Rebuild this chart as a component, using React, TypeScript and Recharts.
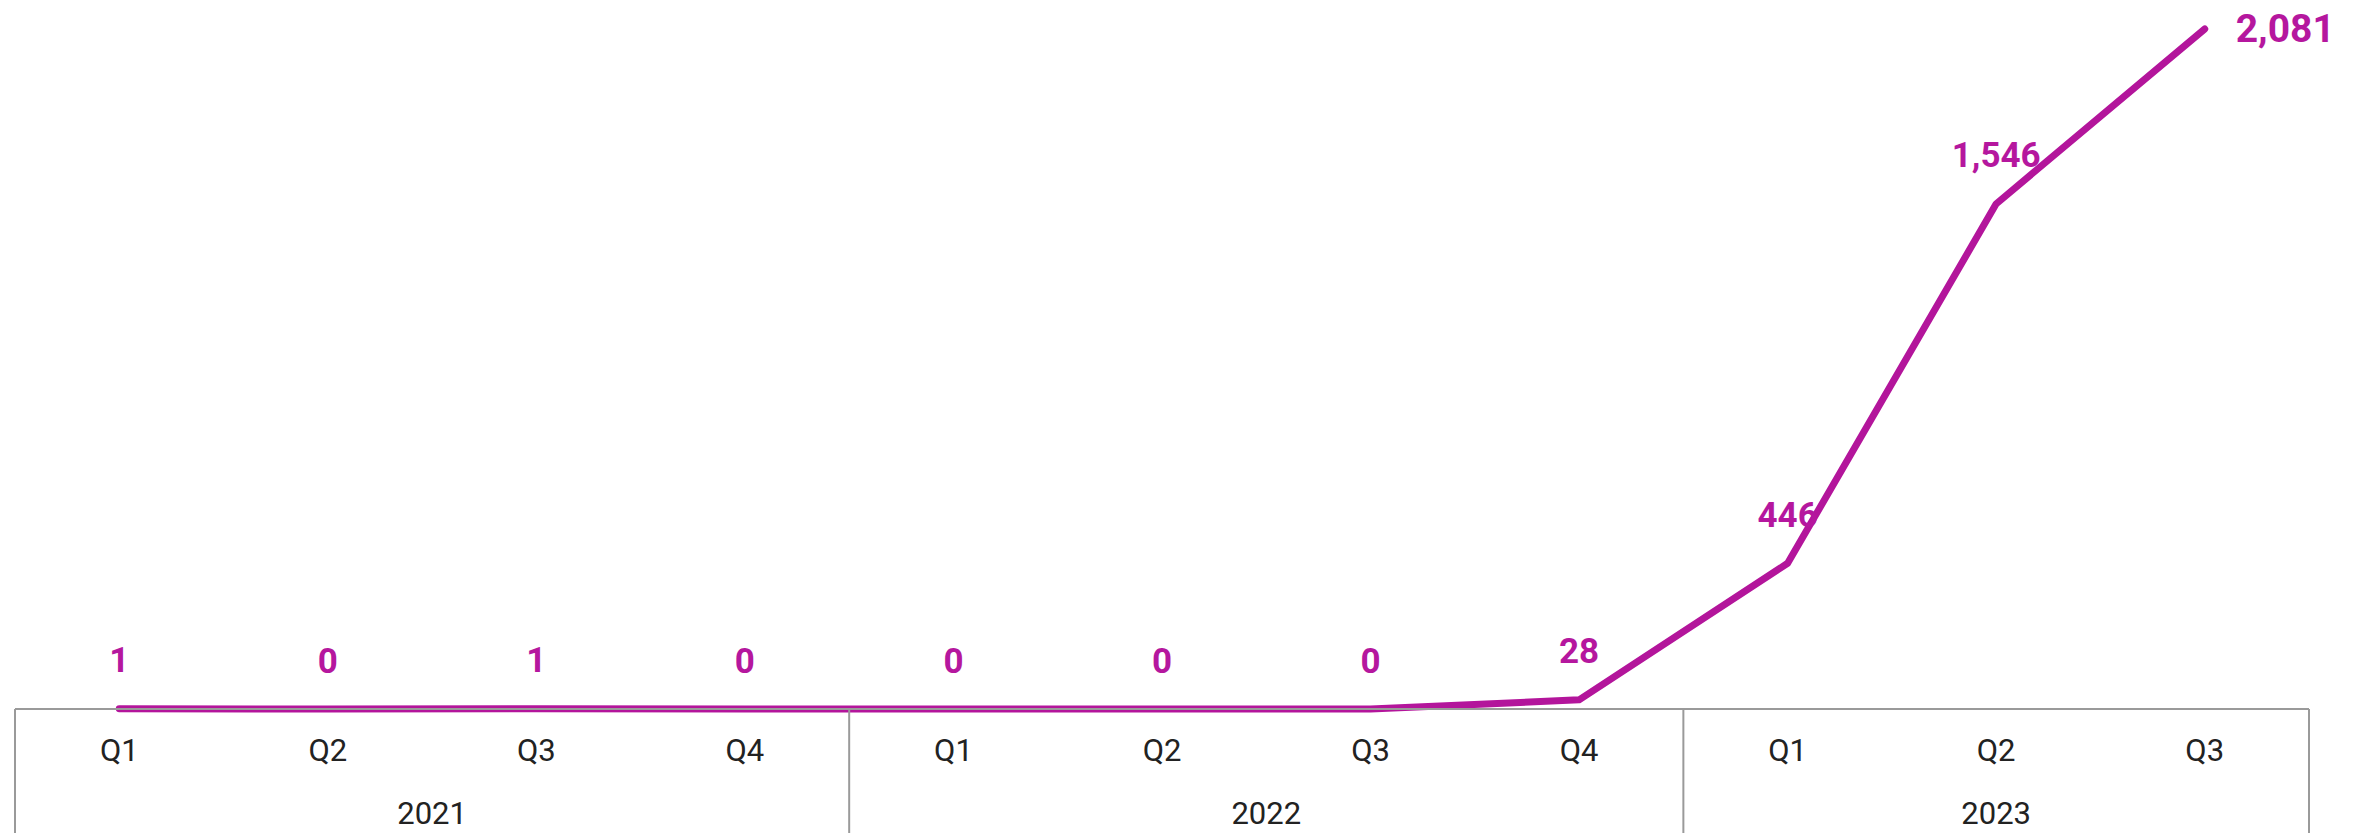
import { LineChart, Line, XAxis, YAxis, LabelList } from 'recharts'

const quarters = ['Q1', 'Q2', 'Q3', 'Q4', 'Q1', 'Q2', 'Q3', 'Q4', 'Q1', 'Q2', 'Q3']
const years = ['2021', '2021', '2021', '2021', '2022', '2022', '2022', '2022', '2023', '2023', '2023']
const counts = [1, 0, 1, 0, 0, 0, 0, 28, 446, 1546, 2081]

const data = quarters.map((q, i) => ({ key: `${years[i]} ${q}`, quarter: q, year: years[i], count: counts[i] }))

const W = 2361
const H = 833
const MARGIN = { top: 29, right: 52, left: 15, bottom: 0 }
const BAND = (W - MARGIN.left - MARGIN.right) / quarters.length
const LINE_COLOR = '#b3159b'
const LABEL_COLOR = '#b5179e'
const BORDER = '#9a9a9a'
const FONT = 'Roboto, "Noto Sans", sans-serif'

function QuarterTick(props: any) {
    const { x, y, payload } = props
    const i = payload.index
    const year = years[i]
    const first = i === 0 || years[i - 1] !== year
    const last = i === years.length - 1
    const groupSize = years.filter(v => v === year).length
    return (
        <g>
            <text x={x} y={y + 41} textAnchor="middle" dominantBaseline="central"
                fontFamily={FONT} fontSize={31} fill="#222">
                {quarters[i]}
            </text>
            {first && (
                <>
                    <line x1={x - BAND / 2} y1={y} x2={x - BAND / 2} y2={H} stroke={BORDER} strokeWidth={2} />
                    <text x={x - BAND / 2 + (groupSize * BAND) / 2} y={y + 104} textAnchor="middle"
                        dominantBaseline="central" fontFamily={FONT} fontSize={31} fill="#222">
                        {year}
                    </text>
                </>
            )}
            {last && <line x1={x + BAND / 2} y1={y} x2={x + BAND / 2} y2={H} stroke={BORDER} strokeWidth={2} />}
        </g>
    )
}

function ValueLabel(props: any) {
    const { x, y, value, index } = props
    const text = Number(value).toLocaleString('en-US')
    if (index === counts.length - 1) {
        return (
            <text x={x + 31} y={y} textAnchor="start" dominantBaseline="central"
                fontFamily={FONT} fontWeight={700} fontSize={39} fill={LABEL_COLOR}>
                {text}
            </text>
        )
    }
    return (
        <text x={x} y={y - 48} textAnchor="middle" dominantBaseline="central"
            fontFamily={FONT} fontWeight={700} fontSize={35} fill={LABEL_COLOR}>
            {text}
        </text>
    )
}

export default function App() {
    return (
        <div style={{ position: 'absolute', left: 0, top: 0, width: W, height: H, background: '#fff' }}>
            <LineChart width={W} height={H} data={data} margin={MARGIN}>
                <XAxis
                    dataKey="key"
                    scale="band"
                    interval={0}
                    height={H - 709 - MARGIN.bottom}
                    tickLine={false}
                    tickSize={0}
                    tickMargin={0}
                    axisLine={{ stroke: BORDER, strokeWidth: 2 }}
                    tick={<QuarterTick />}
                />
                <YAxis hide domain={[0, 'dataMax']} />
                <Line
                    type="linear"
                    dataKey="count"
                    stroke={LINE_COLOR}
                    strokeWidth={7}
                    strokeLinecap="round"
                    strokeLinejoin="round"
                    dot={false}
                    activeDot={false}
                    isAnimationActive={false}
                >
                    <LabelList dataKey="count" content={<ValueLabel />} />
                </Line>
            </LineChart>
        </div>
    )
}
